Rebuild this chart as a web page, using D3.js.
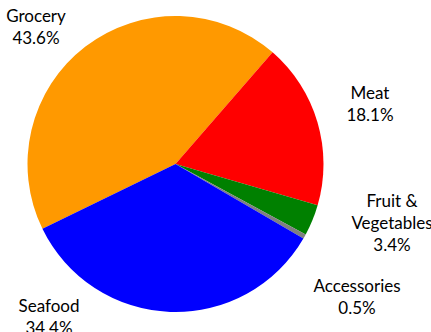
<!DOCTYPE html>
<html>
<head>
<meta charset="utf-8">
<script src="https://cdn.jsdelivr.net/npm/d3@7"></script>
<style>
  html, body { margin: 0; padding: 0; background: #fff; }
  svg { display: block; }
  text { font-family: Lato, "Open Sans", sans-serif; font-size: 17px; fill: #000; }
</style>
</head>
<body>
<svg id="svg" width="431" height="332"></svg>
<script>
'use strict';

var categories = ['Grocery', 'Meat', 'Fruit &\nVegetables', 'Accessories', 'Seafood'];
var values = [43.6, 18.1, 3.4, 0.5, 34.4];
var colors = ['#FF9900', '#FF0000', '#008000', '#808080', '#0000FF'];

// label anchors (centre of text block, top line baseline)
var labelPos = [
  [36, 22], [370, 99], [392, 207], [357, 292], [49, 312]
];

var width = 431, height = 332;
var cx = 175.5, cy = 164, radius = 148;
var lineH = 22;

var svg = d3.select('#svg');

var pie = d3.pie()
    .sort(null)
    .startAngle((41 - 156.96) * Math.PI / 180)
    .endAngle((41 - 156.96 + 360) * Math.PI / 180);

var arc = d3.arc().innerRadius(0).outerRadius(radius);

var arcs = pie(values);

var g = svg.append('g').attr('transform', 'translate(' + cx + ',' + cy + ')');
g.selectAll('path')
    .data(arcs)
  .enter().append('path')
    .attr('d', arc)
    .attr('fill', function(d, i) { return colors[i]; });

var labels = svg.selectAll('text.lbl')
    .data(arcs)
  .enter().append('text')
    .attr('class', 'lbl')
    .attr('text-anchor', 'middle')
    .attr('transform', function(d, i) {
      return 'translate(' + labelPos[i][0] + ',' + labelPos[i][1] + ')';
    });

labels.each(function(d, i) {
  var lines = categories[i].split('\n');
  lines.push(d3.format('.1f')(values[i]) + '%');
  d3.select(this).selectAll('tspan')
      .data(lines)
    .enter().append('tspan')
      .attr('x', 0)
      .attr('y', function(l, j) { return j * lineH; })
      .text(function(l) { return l; });
});
</script>
</body>
</html>
